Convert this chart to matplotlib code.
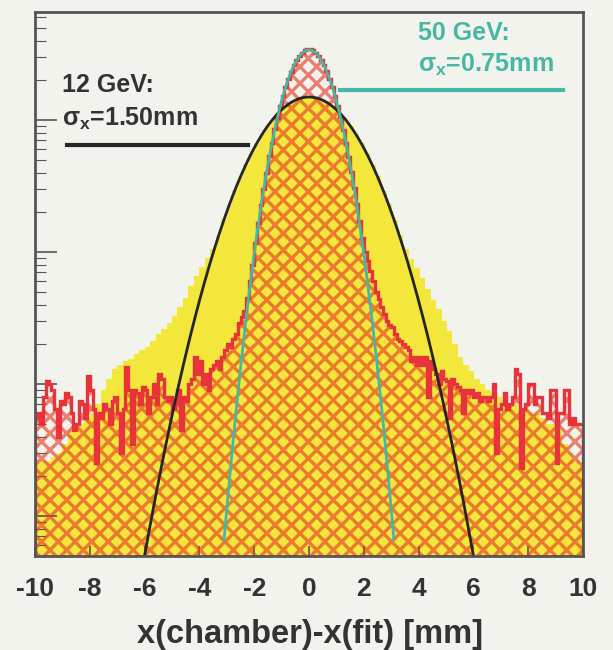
import numpy as np
import matplotlib
matplotlib.use("Agg")
import matplotlib.pyplot as plt
from matplotlib.lines import Line2D

# ---------------- data ----------------
x_min, x_max = -10.0, 10.0
n_bins_12, n_bins_50 = 100, 200

# 12 GeV residual histogram (yellow), 0.2 mm bins
counts_12 = [2.5, 2.6, 2.6, 2.8, 3.0, 3.5, 4.5, 5.0, 5.0, 5.5,
             6.0, 7.0, 9.0, 11, 13, 14, 15, 15.5, 17, 18,
             19, 21, 24, 26, 29, 33, 38, 45, 55, 66,
             77, 90, 105,
             133, 178, 228, 297, 370, 463, 558, 671, 784, 907,
             1022, 1144, 1244, 1341, 1410, 1466, 1488,
             1492, 1460, 1415, 1336, 1250, 1138, 1028, 902, 789, 666,
             562, 458, 375, 292, 232, 174, 135,
             105, 88, 75, 64, 52, 43, 37, 30, 25, 20,
             16, 14, 12.5, 11, 10, 9, 8.5, 8, 7.5, 7,
             7, 6.5, 6.5, 6, 6, 5.5, 5, 5, 4.5, 3.5,
             3, 2.6, 2.4]

# 50 GeV residual histogram (red hatched), 0.1 mm bins
counts_50_left = [5.5, 6, 5, 8, 10.5, 10, 9, 6.5, 4, 7.5,
                  7, 8.5, 8, 6, 4.5, 5, 7.5, 7, 5.5, 11.5,
                  9, 6.5, 2.5, 6, 5.5, 7, 6.5, 5, 7.5, 8,
                  6, 3, 6.5, 13.5, 9, 3.5, 9, 8.5, 7, 9.5,
                  9, 6, 8, 10, 7, 12, 11, 8, 7.5, 8,
                  6.5, 7, 9, 4.5, 8, 7.5, 10, 11, 16, 12,
                  15, 10, 12, 9, 13, 14, 15, 13, 16, 18,
                  20, 19, 22, 24, 29, 32, 36, 45, 60, 80]
counts_50_core = [118, 165, 228, 300, 398, 530, 665, 850, 1040, 1280,
                  1510, 1790, 2060, 2320, 2600, 2840, 3060, 3230, 3380, 3470,
                  3460, 3390, 3220, 3050, 2830, 2590, 2340, 2050, 1780, 1530,
                  1270, 1050, 840, 675, 520, 405, 305, 232, 172, 128]
counts_50_right = [100, 85, 72, 60, 50, 44, 38, 34, 30, 28,
                   27, 24, 22, 21, 20, 19, 18, 15, 16, 14,
                   16, 14, 16, 8, 15, 13, 12, 10, 12.5, 11,
                   10.5, 5.5, 11, 10, 9.5, 9, 6, 9, 8.5, 9,
                   8, 8.5, 7.5, 8, 8, 7.5, 8, 10, 3, 6.5,
                   7, 8.5, 6.5, 7, 8, 13, 12, 2.3, 6.5, 7,
                   10, 10, 7, 8, 8, 6, 6, 5.5, 9, 9,
                   2.5, 6, 6, 9, 9, 5, 5.5, 5, 5, 5]

# Gaussian fits
fit12_amp, fit12_sigma, fit12_range = 1493.0, 1.50, 6.0
fit50_amp, fit50_sigma, fit50_range = 3393.0, 0.75, 3.1

x_ticks = [-10, -8, -6, -4, -2, 0, 2, 4, 6, 8, 10]
x_label = "x(chamber)-x(fit) [mm]"
label12 = ["12 GeV:", r"$\sigma_{\mathrm{x}}$=1.50mm"]
label50 = ["50 GeV:", r"$\sigma_{\mathrm{x}}$=0.75mm"]

# ---------------- style ----------------
W, H = 613, 650
bg = "#f3f3ee"
yellow = "#f3e73c"
red = "#e8333a"
hatch_col = (0.90, 0.22, 0.14, 0.62)
black_col = "#262626"
cyan_col = "#44b8a2"
text_dark = "#333333"

plt.rcParams["font.family"] = ["Liberation Sans", "DejaVu Sans"]
plt.rcParams["font.weight"] = "bold"
plt.rcParams["mathtext.fontset"] = "custom"
plt.rcParams["mathtext.rm"] = "Liberation Sans:bold"
plt.rcParams["mathtext.it"] = "Liberation Sans:bold"
plt.rcParams["mathtext.bf"] = "Liberation Sans:bold"
plt.rcParams["hatch.linewidth"] = 2.4

fig = plt.figure(figsize=(W / 100, H / 100), dpi=100, facecolor=bg)
ax_l, ax_r, ax_t, ax_b = 35, 583, 12, 556
ax = fig.add_axes([ax_l / W, 1 - ax_b / H, (ax_r - ax_l) / W, (ax_b - ax_t) / H])
ax.set_facecolor(bg)

edges12 = np.linspace(x_min, x_max, n_bins_12 + 1)
edges50 = np.linspace(x_min, x_max, n_bins_50 + 1)
c12 = np.array(counts_12, dtype=float)
c50 = np.array(counts_50_left + counts_50_core + counts_50_right, dtype=float)
if len(c12) != n_bins_12 or len(c50) != n_bins_50:
    raise ValueError(f"bin count mismatch {len(c12)} {len(c50)}")

base = 0.05
ax.stairs(c12, edges12, baseline=base, fill=True, facecolor=yellow,
          edgecolor=yellow, linewidth=0.8, zorder=1)
ax.stairs(c50, edges50, baseline=base, fill=True, facecolor="none",
          edgecolor=hatch_col, hatch="xx", linewidth=0, zorder=2)
ax.stairs(c50, edges50, baseline=base, fill=False, edgecolor=red,
          linewidth=2.4, zorder=3)

xf = np.linspace(-fit12_range, fit12_range, 400)
ax.plot(xf, fit12_amp * np.exp(-xf**2 / (2 * fit12_sigma**2)),
        color=black_col, lw=2.0, zorder=5)
xc = np.linspace(-fit50_range, fit50_range, 400)
ax.plot(xc, fit50_amp * np.exp(-xc**2 / (2 * fit50_sigma**2)),
        color=cyan_col, lw=2.0, zorder=5)

ax.set_yscale("log")
ax.set_xlim(x_min, x_max)
ax.set_ylim(0.498, 6577)
ax.set_xticks(x_ticks)
ax.set_xticklabels([str(t) for t in x_ticks], fontsize=19, color=text_dark,
                   fontweight="bold")
ax.tick_params(axis="x", direction="in", length=7, width=1.2, pad=15,
               colors="#555555", labelcolor=text_dark, top=False)
ax.tick_params(axis="y", which="major", direction="in", length=16, width=1.2,
               labelleft=False, right=False, colors="#555555")
ax.tick_params(axis="y", which="minor", direction="in", length=8, width=0.8,
               labelleft=False, right=False, colors="#555555")
for s in ax.spines.values():
    s.set_color("#555555")
    s.set_linewidth(2.0)
    s.set_zorder(6)


def ax_x(px):
    return (px - ax_l) / (ax_r - ax_l)


def ax_y(py):
    return (ax_b - py) / (ax_b - ax_t)


# annotations
ax.text(ax_x(62), ax_y(92), label12[0], transform=ax.transAxes, fontsize=18,
        color=text_dark, fontweight="bold", va="baseline", ha="left", zorder=7)
ax.text(ax_x(62), ax_y(126), label12[1], transform=ax.transAxes, fontsize=18,
        color=text_dark, fontweight="bold", va="baseline", ha="left", zorder=7)
ax.add_line(Line2D([ax_x(67), ax_x(248)], [ax_y(145), ax_y(145)],
                   transform=ax.transAxes, color=black_col, lw=3, zorder=7))

ax.text(ax_x(418), ax_y(40), label50[0], transform=ax.transAxes, fontsize=18,
        color=cyan_col, fontweight="bold", va="baseline", ha="left", zorder=7)
ax.text(ax_x(418), ax_y(72), label50[1], transform=ax.transAxes, fontsize=18,
        color=cyan_col, fontweight="bold", va="baseline", ha="left", zorder=7)
ax.add_line(Line2D([ax_x(340), ax_x(563)], [ax_y(90), ax_y(90)],
                   transform=ax.transAxes, color=cyan_col, lw=3, zorder=7))

fig.text(310 / W, 1 - 634 / H, x_label, fontsize=23.5, fontweight="bold",
         color=text_dark, ha="center", va="center")

fig.savefig("out.png", dpi=100, facecolor=bg)
